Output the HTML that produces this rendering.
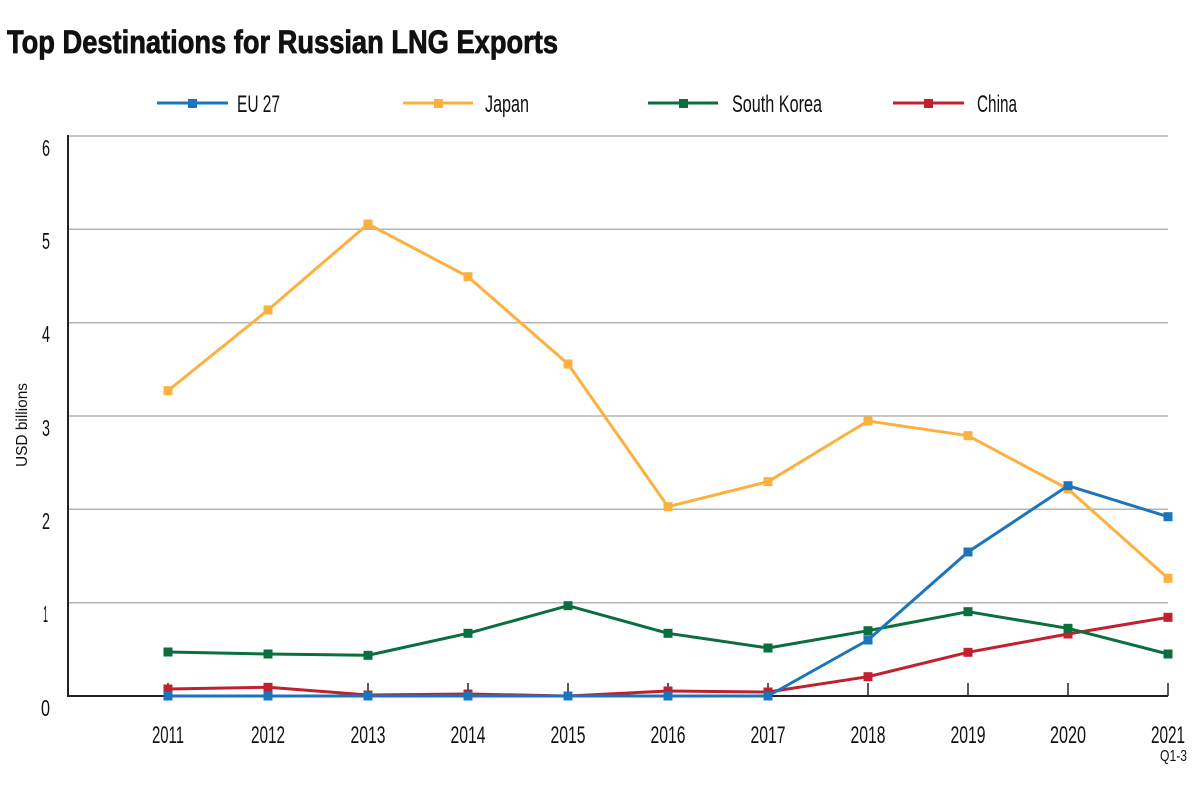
<!DOCTYPE html>
<html><head><meta charset="utf-8"><style>
html,body{margin:0;padding:0;background:#fff;}
svg{display:block;}
text{font-family:"Liberation Sans",sans-serif;fill:#111;}
</style></head><body>
<svg width="1200" height="785" viewBox="0 0 1200 785" xmlns="http://www.w3.org/2000/svg">
<rect width="1200" height="785" fill="#fff"/>
<text x="7" y="53" font-size="32" font-weight="bold" stroke="#111" stroke-width="0.8" textLength="551" lengthAdjust="spacingAndGlyphs">Top Destinations for Russian LNG Exports</text>

<!-- legend -->
<g stroke-width="3">
<line x1="157" y1="103" x2="228" y2="103" stroke="#1a75bc"/><rect x="188" y="99" width="9" height="9" fill="#1a75bc"/>
<line x1="403" y1="103" x2="473" y2="103" stroke="#fbb040"/><rect x="434" y="99" width="9" height="9" fill="#fbb040"/>
<line x1="648" y1="103" x2="718" y2="103" stroke="#0b6e3e"/><rect x="679" y="99" width="9" height="9" fill="#0b6e3e"/>
<line x1="893" y1="103" x2="964" y2="103" stroke="#c1202f"/><rect x="924" y="99" width="9" height="9" fill="#c1202f"/>
</g>
<text x="237" y="112" font-size="24" textLength="43" lengthAdjust="spacingAndGlyphs">EU 27</text>
<text x="485" y="112" font-size="24" textLength="44" lengthAdjust="spacingAndGlyphs">Japan</text>
<text x="732" y="112" font-size="24" textLength="90" lengthAdjust="spacingAndGlyphs">South Korea</text>
<text x="977" y="112" font-size="24" textLength="40" lengthAdjust="spacingAndGlyphs">China</text>

<!-- gridlines -->
<g stroke="#b5b5b5" stroke-width="1.5">
<line x1="68" y1="136" x2="1168" y2="136"/>
<line x1="68" y1="229.3" x2="1168" y2="229.3"/>
<line x1="68" y1="322.7" x2="1168" y2="322.7"/>
<line x1="68" y1="416" x2="1168" y2="416"/>
<line x1="68" y1="509.3" x2="1168" y2="509.3"/>
<line x1="68" y1="602.7" x2="1168" y2="602.7"/>
</g>
<!-- axes -->
<g stroke="#222" stroke-width="2">
<line x1="68" y1="135" x2="68" y2="697"/>
<line x1="67" y1="696" x2="1168" y2="696"/>
</g>
<g stroke="#222" stroke-width="1.5">
<line x1="168" y1="683" x2="168" y2="696"/><line x1="268" y1="683" x2="268" y2="696"/>
<line x1="368" y1="683" x2="368" y2="696"/><line x1="468" y1="683" x2="468" y2="696"/>
<line x1="568" y1="683" x2="568" y2="696"/><line x1="668" y1="683" x2="668" y2="696"/>
<line x1="768" y1="683" x2="768" y2="696"/><line x1="868" y1="683" x2="868" y2="696"/>
<line x1="968" y1="683" x2="968" y2="696"/><line x1="1068" y1="683" x2="1068" y2="696"/>
<line x1="1168" y1="683" x2="1168" y2="696"/>
</g>

<!-- y labels -->
<g font-size="23" text-anchor="end">
<text x="50" y="156" textLength="8" lengthAdjust="spacingAndGlyphs">6</text>
<text x="50" y="249" textLength="8" lengthAdjust="spacingAndGlyphs">5</text>
<text x="50" y="342" textLength="8" lengthAdjust="spacingAndGlyphs">4</text>
<text x="50" y="436" textLength="8" lengthAdjust="spacingAndGlyphs">3</text>
<text x="50" y="529" textLength="8" lengthAdjust="spacingAndGlyphs">2</text>
<text x="48" y="622" textLength="5" lengthAdjust="spacingAndGlyphs">1</text>
<text x="50" y="716" textLength="9" lengthAdjust="spacingAndGlyphs">0</text>
</g>
<text transform="translate(27,425) rotate(-90)" font-size="16" text-anchor="middle" textLength="84" lengthAdjust="spacingAndGlyphs">USD billions</text>

<!-- x labels -->
<g font-size="24" text-anchor="middle">
<text x="168" y="743" textLength="32" lengthAdjust="spacingAndGlyphs">2011</text>
<text x="268" y="743" textLength="34" lengthAdjust="spacingAndGlyphs">2012</text>
<text x="368" y="743" textLength="35" lengthAdjust="spacingAndGlyphs">2013</text>
<text x="468" y="743" textLength="35" lengthAdjust="spacingAndGlyphs">2014</text>
<text x="568" y="743" textLength="35" lengthAdjust="spacingAndGlyphs">2015</text>
<text x="668" y="743" textLength="35" lengthAdjust="spacingAndGlyphs">2016</text>
<text x="768" y="743" textLength="35" lengthAdjust="spacingAndGlyphs">2017</text>
<text x="868" y="743" textLength="35" lengthAdjust="spacingAndGlyphs">2018</text>
<text x="968" y="743" textLength="35" lengthAdjust="spacingAndGlyphs">2019</text>
<text x="1068" y="743" textLength="36" lengthAdjust="spacingAndGlyphs">2020</text>
<text x="1168" y="743" textLength="34" lengthAdjust="spacingAndGlyphs">2021</text>
</g>
<text x="1187" y="761" font-size="16" text-anchor="end" textLength="27" lengthAdjust="spacingAndGlyphs">Q1-3</text>

<!-- series -->
<g fill="none" stroke-width="3" stroke-linejoin="round">
<polyline stroke="#fbb040" points="168,390.7 268,310 368,224 468,276.7 568,364 668,506.7 768,481.7 868,421 968,435.7 1068,489 1168,578.3"/>
</g>
<g fill="#fbb040">
<rect x="163.5" y="386.2" width="9" height="9"/><rect x="263.5" y="305.5" width="9" height="9"/><rect x="363.5" y="219.5" width="9" height="9"/><rect x="463.5" y="272.2" width="9" height="9"/><rect x="563.5" y="359.5" width="9" height="9"/><rect x="663.5" y="502.2" width="9" height="9"/><rect x="763.5" y="477.2" width="9" height="9"/><rect x="863.5" y="416.5" width="9" height="9"/><rect x="963.5" y="431.2" width="9" height="9"/><rect x="1063.5" y="484.5" width="9" height="9"/><rect x="1163.5" y="573.8" width="9" height="9"/>
</g>

<polyline fill="none" stroke="#c1202f" stroke-width="3" stroke-linejoin="round" points="168,689 268,687.3 368,695 468,694 568,696 668,691 768,692 868,676.7 968,652.3 1068,634 1168,617.3"/>
<g fill="#c1202f">
<rect x="163.5" y="684.5" width="9" height="9"/><rect x="263.5" y="682.8" width="9" height="9"/><rect x="363.5" y="690.5" width="9" height="9"/><rect x="463.5" y="689.5" width="9" height="9"/><rect x="563.5" y="691.5" width="9" height="9"/><rect x="663.5" y="686.5" width="9" height="9"/><rect x="763.5" y="687.5" width="9" height="9"/><rect x="863.5" y="672.2" width="9" height="9"/><rect x="963.5" y="647.8" width="9" height="9"/><rect x="1063.5" y="629.5" width="9" height="9"/><rect x="1163.5" y="612.8" width="9" height="9"/>
</g>

<polyline fill="none" stroke="#0b6e3e" stroke-width="3" stroke-linejoin="round" points="168,652 268,654 368,655.3 468,633.3 568,605.7 668,633.3 768,648 868,630.7 968,611.7 1068,628.3 1168,654"/>
<g fill="#0b6e3e">
<rect x="163.5" y="647.5" width="9" height="9"/><rect x="263.5" y="649.5" width="9" height="9"/><rect x="363.5" y="650.8" width="9" height="9"/><rect x="463.5" y="628.8" width="9" height="9"/><rect x="563.5" y="601.2" width="9" height="9"/><rect x="663.5" y="628.8" width="9" height="9"/><rect x="763.5" y="643.5" width="9" height="9"/><rect x="863.5" y="626.2" width="9" height="9"/><rect x="963.5" y="607.2" width="9" height="9"/><rect x="1063.5" y="623.8" width="9" height="9"/><rect x="1163.5" y="649.5" width="9" height="9"/>
</g>

<polyline fill="none" stroke="#1a75bc" stroke-width="3" stroke-linejoin="round" points="168,696 268,696 368,696 468,696 568,696 668,696 768,696 868,640 968,552 1068,485.7 1168,516.7"/>
<g fill="#1a75bc">
<rect x="163.5" y="691.5" width="9" height="9"/><rect x="263.5" y="691.5" width="9" height="9"/><rect x="363.5" y="691.5" width="9" height="9"/><rect x="463.5" y="691.5" width="9" height="9"/><rect x="563.5" y="691.5" width="9" height="9"/><rect x="663.5" y="691.5" width="9" height="9"/><rect x="763.5" y="691.5" width="9" height="9"/><rect x="863.5" y="635.5" width="9" height="9"/><rect x="963.5" y="547.5" width="9" height="9"/><rect x="1063.5" y="481.2" width="9" height="9"/><rect x="1163.5" y="512.2" width="9" height="9"/>
</g>
</svg>
</body></html>
